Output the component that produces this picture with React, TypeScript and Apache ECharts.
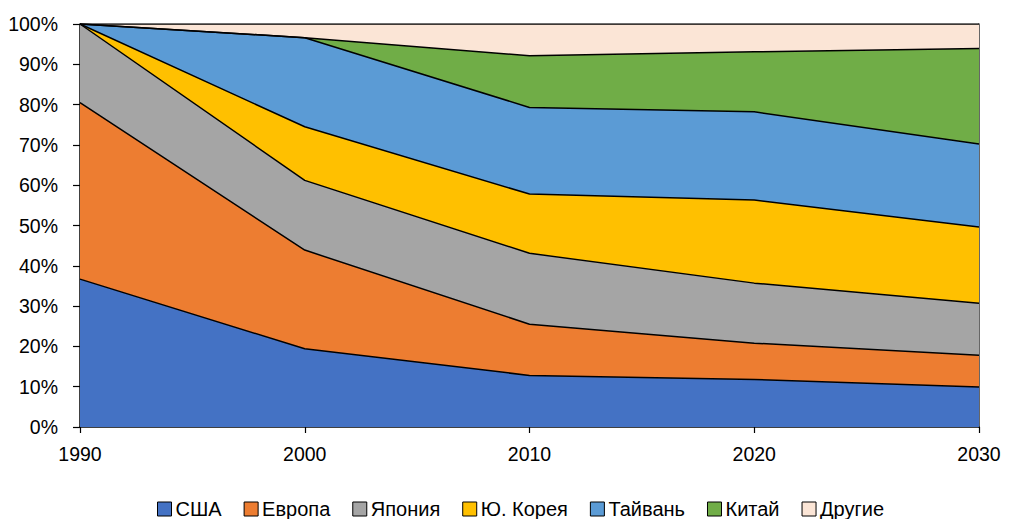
import React, { useEffect, useRef } from "react";
import * as echarts from "echarts";

const years = ["1990", "2000", "2010", "2020", "2030"];
const usa = [36.7, 19.4, 12.8, 11.8, 9.9];
const europe = [43.8, 24.5, 12.7, 9.0, 7.9];
const japan = [19.5, 17.3, 17.6, 14.9, 12.9];
const korea = [0, 13.3, 14.7, 20.6, 18.9];
const taiwan = [0, 22.1, 21.5, 21.9, 20.6];
const china = [0, 0, 12.8, 14.9, 23.7];
const others = [0, 3.4, 7.9, 6.9, 6.1];

const seriesNames = ["США", "Европа", "Япония", "Ю. Корея", "Тайвань", "Китай", "Другие"];
const seriesData = [usa, europe, japan, korea, taiwan, china, others];
const colors = ["#4472C4", "#ED7D31", "#A5A5A5", "#FFC000", "#5B9BD5", "#70AD47", "#FBE5D6"];

const FONT = "'Liberation Sans', Arial, sans-serif";

export default function App() {
  const ref = useRef<HTMLDivElement>(null);
  useEffect(() => {
    if (!ref.current) return;
    const chart = echarts.init(ref.current, null, { renderer: "svg" });
    chart.setOption({
      animation: false,
      textStyle: { fontFamily: FONT, color: "#000" },
      grid: { left: 80, right: 32, top: 24, bottom: 92, containLabel: false },
      legend: {
        data: seriesNames,
        left: 157,
        top: 499,
        padding: 0,
        icon: "rect",
        itemWidth: 14,
        itemHeight: 14,
        itemGap: 22,
        textStyle: {
          fontFamily: FONT,
          fontSize: 20,
          lineHeight: 20,
          color: "#000",
          padding: [0, 0, 0, -1],
        },
        itemStyle: { borderColor: "#000", borderWidth: 1 },
      },
      xAxis: {
        type: "category",
        data: years,
        boundaryGap: false,
        axisLine: { lineStyle: { color: "#000", width: 1.5 } },
        axisTick: { show: true, length: 6, lineStyle: { color: "#000", width: 1.2 } },
        axisLabel: { fontFamily: FONT, fontSize: 19.5, color: "#000", margin: 17 },
        splitLine: { show: false },
      },
      yAxis: [
        {
          type: "value",
          min: 0,
          max: 100,
          interval: 10,
          axisLine: { show: true, lineStyle: { color: "#000", width: 1.5 } },
          axisTick: { show: true, length: 7, lineStyle: { color: "#000", width: 1.2 } },
          axisLabel: {
            fontFamily: FONT,
            fontSize: 19.5,
            color: "#000",
            margin: 22,
            formatter: "{value}%",
          },
          splitLine: { show: false },
        },
        {
          type: "value",
          position: "right",
          min: 0,
          max: 100,
          interval: 10,
          axisLine: { show: true, lineStyle: { color: "#333", width: 1.5 } },
          axisTick: { show: false },
          axisLabel: { show: false },
          splitLine: { show: false },
        },
      ],
      series: seriesNames.map((name, i) => ({
        name,
        type: "line",
        stack: "total",
        data: seriesData[i],
        showSymbol: false,
        symbol: "none",
        yAxisIndex: 0,
        lineStyle: { color: "#000", width: 1.5 },
        itemStyle: { color: colors[i], borderColor: "#000", borderWidth: 1 },
        areaStyle: { color: colors[i], opacity: 1 },
        z: 2,
      })),
    });
    return () => chart.dispose();
  }, []);
  return (
    <div
      ref={ref}
      style={{ position: "absolute", left: 0, top: 0, width: 1011, height: 519, background: "#fff" }}
    />
  );
}
